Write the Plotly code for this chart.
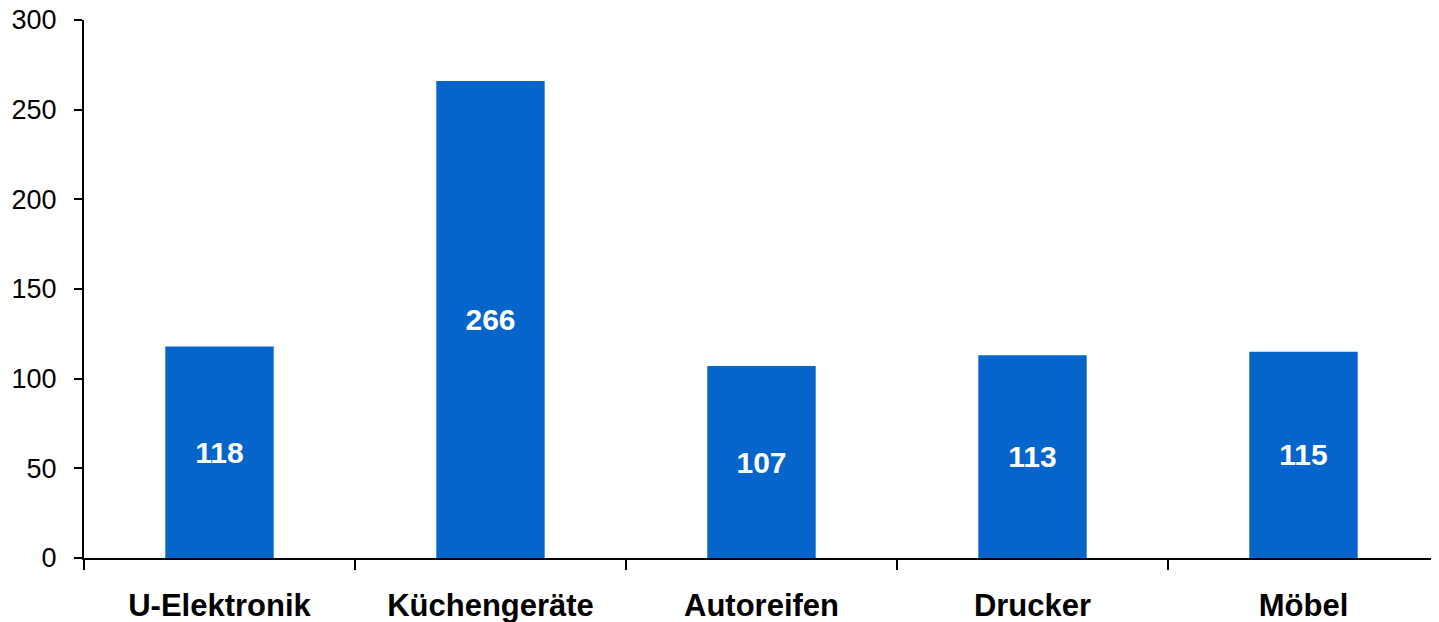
import plotly.graph_objs as go

categories = ["U-Elektronik", "Küchengeräte", "Autoreifen", "Drucker", "Möbel"]
values = [118, 266, 107, 113, 115]
y_ticks = [0, 50, 100, 150, 200, 250, 300]

FONT = "Liberation Sans, Arial, sans-serif"

# the page has an 8px body margin, so the figure is sized to fit inside it
fig = go.Figure(
    data=[
        go.Bar(
            x=categories,
            y=values,
            width=0.4,
            marker=dict(color="#0565CB", line=dict(width=0)),
            text=[str(v) for v in values],
            textposition="inside",
            insidetextanchor="middle",
            textangle=0,
            constraintext="none",
            textfont=dict(family=FONT, size=30, color="white", weight="bold"),
            hoverinfo="skip",
        )
    ],
    layout=go.Layout(
        width=1431,
        height=614,
        paper_bgcolor="white",
        plot_bgcolor="white",
        showlegend=False,
        margin=dict(l=76, r=0, t=12, b=64),
        font=dict(family=FONT, color="black"),
        xaxis=dict(
            type="category",
            automargin=False,
            showline=True,
            linecolor="black",
            linewidth=2,
            ticks="outside",
            tickson="boundaries",
            ticklen=10,
            tickwidth=2,
            tickcolor="black",
            showgrid=False,
            zeroline=False,
            tickfont=dict(family=FONT, size=31, color="black", weight="bold"),
            ticklabelstandoff=19,
            ticklabeloverflow="allow",
        ),
        yaxis=dict(
            range=[0, 300],
            tickvals=y_ticks,
            automargin=False,
            showline=True,
            linecolor="black",
            linewidth=2,
            ticks="outside",
            ticklen=8,
            tickwidth=2,
            tickcolor="black",
            showgrid=False,
            zeroline=False,
            tickfont=dict(family=FONT, size=27, color="black"),
            ticklabelstandoff=12,
            ticklabeloverflow="allow",
        ),
    ),
)

fig.write_html("out.html")
